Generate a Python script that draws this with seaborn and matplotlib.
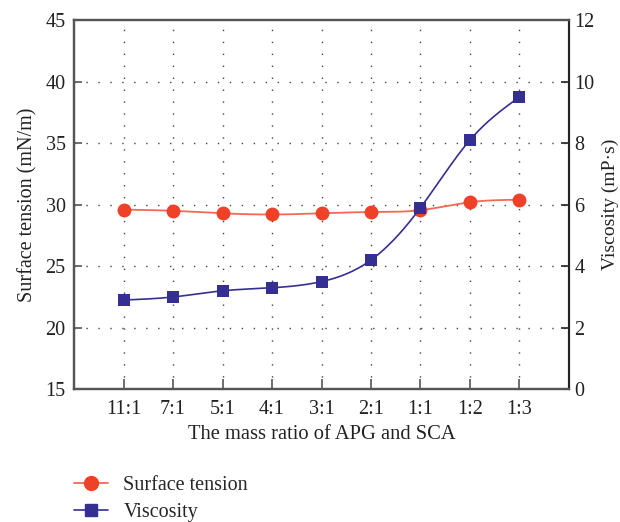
import numpy as np
import pandas as pd
import matplotlib
matplotlib.use("Agg")
import matplotlib.pyplot as plt
import seaborn as sns
from matplotlib.lines import Line2D

ratios = ["11:1", "7:1", "5:1", "4:1", "3:1", "2:1", "1:1", "1:2", "1:3"]
surface_tension = [29.6, 29.5, 29.3, 29.2, 29.3, 29.4, 29.55, 30.2, 30.4]
viscosity = [2.9, 3.0, 3.2, 3.3, 3.5, 4.2, 5.9, 8.1, 9.5]

sns.set_theme(style="white")
plt.rcParams['font.family'] = ['Liberation Serif', 'DejaVu Serif']

RED = "#EE4128"
RED_LINE = "#F26A55"
BLUE = "#352F92"
SPINE = "#555555"
TXT = "#222222"
FS = 14.5


def natural_spline(x, y, n=400):
    x = np.asarray(x, float)
    y = np.asarray(y, float)
    m = len(x)
    h = np.diff(x)
    A = np.zeros((m, m))
    b = np.zeros(m)
    A[0, 0] = 1
    A[-1, -1] = 1
    for i in range(1, m - 1):
        A[i, i - 1] = h[i - 1]
        A[i, i] = 2 * (h[i - 1] + h[i])
        A[i, i + 1] = h[i]
        b[i] = 6 * ((y[i + 1] - y[i]) / h[i] - (y[i] - y[i - 1]) / h[i - 1])
    M = np.linalg.solve(A, b)
    xs = np.linspace(x[0], x[-1], n)
    idx = np.clip(np.searchsorted(x, xs) - 1, 0, m - 2)
    x0, x1 = x[idx], x[idx + 1]
    hh = x1 - x0
    t0 = x1 - xs
    t1 = xs - x0
    ys = (M[idx] * t0 ** 3 / (6 * hh) + M[idx + 1] * t1 ** 3 / (6 * hh)
          + (y[idx] / hh - M[idx] * hh / 6) * t0
          + (y[idx + 1] / hh - M[idx + 1] * hh / 6) * t1)
    return xs, ys


pos = np.arange(len(ratios))
df = pd.DataFrame({"pos": pos, "ratio": ratios,
                   "surface_tension": surface_tension, "viscosity": viscosity})

fig = plt.figure(figsize=(6.2, 5.22), dpi=100)
ax = fig.add_axes([0.1194, 0.2542, 0.7983, 0.7075])
ax2 = ax.twinx()

# dotted grid
GRID_LS = (0, (1, 7.6))
for yv in [20, 25, 30, 35, 40]:
    ax.axhline(yv, color="#444444", lw=1.0, ls=GRID_LS, zorder=0)
for xv in pos:
    ax.axvline(xv, color="#444444", lw=1.0, ls=GRID_LS, zorder=0)

xs, ys = natural_spline(pos, surface_tension)
sns.lineplot(x=xs, y=ys, ax=ax, color=RED_LINE, lw=1.3, zorder=3)
sns.scatterplot(data=df, x="pos", y="surface_tension", ax=ax, marker="o",
                s=100, color=RED, edgecolor=RED, linewidth=0, zorder=4)

xs2, ys2 = natural_spline(pos, viscosity)
sns.lineplot(x=xs2, y=ys2, ax=ax2, color=BLUE, lw=1.2, zorder=3)
sns.scatterplot(data=df, x="pos", y="viscosity", ax=ax2, marker="s",
                s=85, color=BLUE, edgecolor=BLUE, linewidth=0, zorder=5)

ax.set_xlim(-1, len(ratios))
ax.set_ylim(15, 45)
ax2.set_ylim(0, 12)
ax.set_xticks(pos)
ax.set_xticklabels(ratios)
ax.set_yticks([15, 20, 25, 30, 35, 40, 45])
ax2.set_yticks([0, 2, 4, 6, 8, 10, 12])

ax.set_xlabel("The mass ratio of APG and SCA", fontsize=14.8, color=TXT, labelpad=4)
ax.set_ylabel("Surface tension (mN/m)", fontsize=FS, color=TXT, labelpad=6)
ax2.set_ylabel("Viscosity (mP·s)", fontsize=14, color=TXT, labelpad=5)

ax.tick_params(axis="x", bottom=True, top=False, direction="in", length=7,
               width=1.2, color=SPINE, labelsize=FS, labelcolor=TXT, pad=8)
ax.tick_params(axis="y", left=True, right=False, direction="in", length=6,
               width=1.2, color=SPINE, labelsize=FS, labelcolor=TXT, pad=6)
ax2.tick_params(axis="y", left=False, right=True, direction="in", length=6,
                width=1.2, color=TXT, labelsize=FS, labelcolor=TXT, pad=4)
for a in (ax, ax2):
    for s in a.spines.values():
        s.set_color(SPINE)
        s.set_linewidth(1.6)
ax2.spines["right"].set_color(TXT)
ax2.spines["right"].set_linewidth(1.4)

handles = [
    Line2D([0], [0], color=RED_LINE, lw=1.3, marker="o", markersize=10,
           markerfacecolor=RED, markeredgecolor=RED),
    Line2D([0], [0], color=BLUE, lw=1.2, marker="s", markersize=9,
           markerfacecolor=BLUE, markeredgecolor=BLUE),
]
fig.legend(handles, ["Surface tension", "Viscosity"], loc="upper left",
           bbox_to_anchor=(74 / 620, 1 - 476 / 522), frameon=False, fontsize=FS,
           handlelength=1.7, labelspacing=0.4, handletextpad=0.75,
           borderpad=0, borderaxespad=0)

fig.savefig("out.png", dpi=100)
